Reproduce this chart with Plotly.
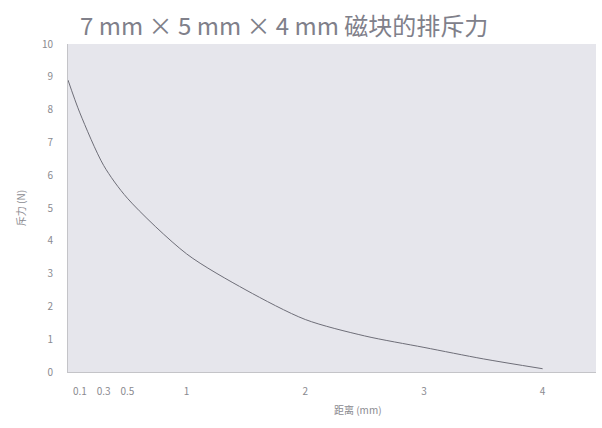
import plotly.graph_objects as go

# Repulsive force between two 7x5x4 mm magnets versus gap distance
distance_mm = [0, 0.1, 0.3, 0.5, 1, 1.5, 2, 2.5, 3, 3.5, 4]
force_n = [8.9, 7.9, 6.3, 5.3, 3.6, 2.5, 1.6, 1.1, 0.75, 0.4, 0.1]

x_tickvals = [0.1, 0.3, 0.5, 1, 2, 3, 4]
x_ticktext = ["0.1", "0.3", "0.5", "1", "2", "3", "4"]
y_tickvals = list(range(0, 11))

font_family = "Noto Sans CJK SC, Noto Sans, sans-serif"
label_color = "#8a8a90"

fig = go.Figure()
fig.add_trace(go.Scatter(
    x=distance_mm,
    y=force_n,
    mode="lines",
    line=dict(color="#6e6e78", width=1, shape="spline", smoothing=0.8),
    showlegend=False,
))

fig.update_layout(
    width=602,
    height=428,
    margin=dict(l=68, r=6, t=44, b=56),
    paper_bgcolor="#ffffff",
    plot_bgcolor="#e6e6ec",
    font=dict(family=font_family, color=label_color, size=10),
    title=dict(
        text="7 mm × 5 mm × 4 mm 磁块的排斥力",
        x=0.133, xanchor="left",
        y=0.937, yanchor="middle",
        font=dict(size=24, color="#80808a", family=font_family),
    ),
    xaxis=dict(
        range=[0, 4.45],
        tickvals=x_tickvals,
        ticktext=x_ticktext,
        showgrid=False,
        zeroline=False,
        showline=True,
        linecolor="#c4c4c8",
        linewidth=1,
        ticks="",
        ticklabelstandoff=10,
        tickfont=dict(size=10, color=label_color),
    ),
    yaxis=dict(
        range=[0, 10],
        tickvals=y_tickvals,
        showgrid=False,
        zeroline=False,
        showline=True,
        linecolor="#c4c4c8",
        linewidth=1,
        ticks="",
        ticklabelstandoff=12,
        tickfont=dict(size=10, color=label_color),
        title=dict(text="斥力 (N)", font=dict(size=10, color=label_color), standoff=14),
    ),
    annotations=[
        dict(
            text="距离 (mm)",
            xref="paper", yref="paper",
            x=0.55, y=-0.115,
            xanchor="center", yanchor="middle",
            showarrow=False,
            font=dict(size=10, color=label_color),
        )
    ],
)

fig.write_html("out.html")
